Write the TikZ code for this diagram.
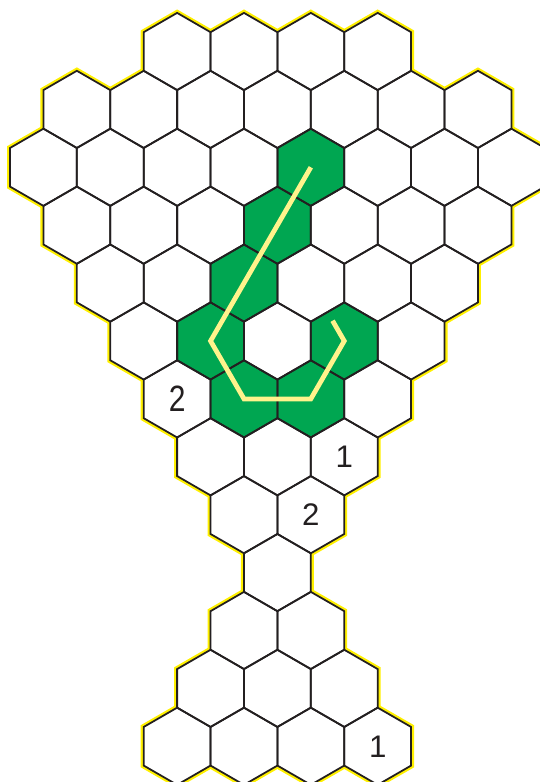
\documentclass[tikz,border=0pt]{standalone}
\usepackage{fontspec}
\setmainfont{Liberation Sans}
\usetikzlibrary{calc}

\definecolor{cellgreen}{RGB}{0,166,81}
\definecolor{rimyellow}{RGB}{255,240,0}
\definecolor{trailyellow}{RGB}{255,243,140}
\definecolor{edgegray}{RGB}{35,31,32}

% one pointy-top hexagon of circumradius 1
\tikzset{
  hexcell/.pic={\path[pic actions] (90:1) -- (150:1) -- (210:1) -- (270:1) -- (330:1) -- (30:1) -- cycle;},
  rim/.style={draw=rimyellow, line width=4.4pt, line join=miter},
  hexedge/.style={draw=edgegray, line width=1.3pt, line join=miter},
  trail/.style={draw=trailyellow, line width=3.5pt, line join=miter},
  digit/.style={text=edgegray, inner sep=0pt, font=\fontsize{23}{23}\selectfont},
}

% row / columns of the board
\def\board{0/{5,7,9,11}, 1/{2,4,...,14}, 2/{1,3,...,15}, 3/{2,4,...,14},
  4/{3,5,...,13}, 5/{4,6,...,12}, 6/{5,7,9,11}, 7/{6,8,10}, 8/{7,9},
  9/{8}, 10/{7,9}, 11/{6,8,10}, 12/{5,7,9,11}}

\begin{document}
\begin{tikzpicture}
  \useasboundingbox (0,0) rectangle (13.99,-20.26);
  \clip (0,0) rectangle (13.99,-20.26);

  % cell centres
  \foreach \r/\ks in \board {
    \foreach \k in \ks {
      \coordinate (h-\r-\k) at ({0.259+0.866*\k},{-1.334-1.5*\r});
    }
  }

  % yellow rim, then fill, then grid lines
  \foreach \r/\ks in \board {
    \foreach \k in \ks { \pic[rim] at (h-\r-\k) {hexcell}; }
  }
  \foreach \r/\ks in \board {
    \foreach \k in \ks { \pic[fill=white] at (h-\r-\k) {hexcell}; }
  }
  \foreach \c in {2-9, 3-8, 4-7, 5-6, 5-10, 6-7, 6-9} {
    \pic[fill=cellgreen] at (h-\c) {hexcell};
  }
  \foreach \r/\ks in \board {
    \foreach \k in \ks { \pic[hexedge] at (h-\r-\k) {hexcell}; }
  }

  % path through the green cells
  \coordinate (tail) at ($(h-5-10)!0.35!(h-4-9)$);
  \draw[trail] (h-2-9) -- (h-5-6) -- (h-6-7) -- (h-6-9) -- (h-5-10) -- (tail);

  \node[digit, font=\fontsize{27}{27}\selectfont] (d-6-5) at (h-6-5) {\scalebox{0.82}[1]{2}};
  \node[digit] (d-7-10) at (h-7-10) {1};
  \node[digit] (d-8-9) at (h-8-9) {2};
  \node[digit] (d-12-11) at (h-12-11) {1};
\end{tikzpicture}
\end{document}
